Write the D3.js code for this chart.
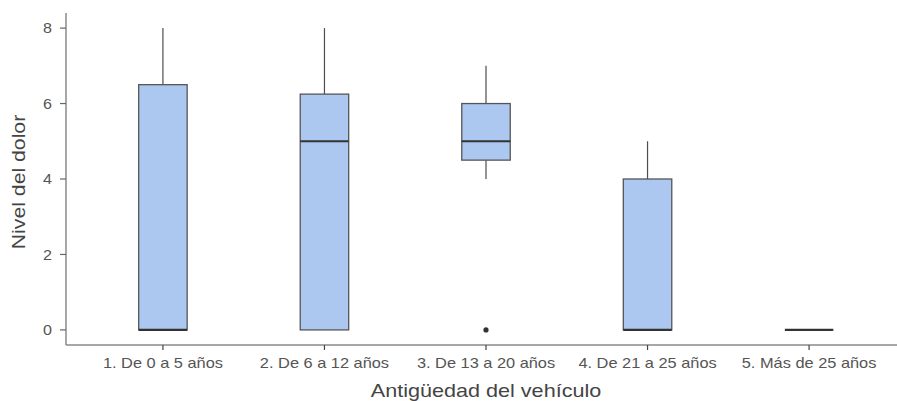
<!DOCTYPE html>
<html><head><meta charset="utf-8">
<script src="https://cdn.jsdelivr.net/npm/d3@7"></script>
<style>
html,body{margin:0;padding:0;background:#fff;}
svg text{font-family:"Liberation Sans",Arial,sans-serif;}
</style></head>
<body>
<svg id="chart" width="897" height="401"></svg>
<script>
const categories = ["1. De 0 a 5 años","2. De 6 a 12 años","3. De 13 a 20 años","4. De 21 a 25 años","5. Más de 25 años"];
const lowerWhisker = [0, 0, 4, 0, 0];
const q1 = [0, 0, 4.5, 0, 0];
const median = [0, 5, 5, 0, 0];
const q3 = [6.5, 6.25, 6, 4, 0];
const upperWhisker = [8, 8, 7, 5, 0];
const outliers = [[], [], [0], [], []];
const yTicks = [0, 2, 4, 6, 8];

(function(){
const svg = d3.select("#chart");
const mLeft = 66, mRight = 906, mTop = 13, mBottom = 345;
const n = categories.length;
const x = d3.scaleLinear().domain([0.4, n + 0.6]).range([mLeft, mRight]);
const y = d3.scaleLinear().domain([-0.4, 8.4]).range([mBottom, mTop]);
const boxW = (x(2) - x(1)) * 0.3;

const data = categories.map((c, i) => ({c, i, lo: lowerWhisker[i], q1: q1[i], med: median[i], q3: q3[i], hi: upperWhisker[i], out: outliers[i]}));

const g = svg.append("g");
data.forEach(d => {
  const cx = x(d.i + 1);
  if (d.hi > d.q3) g.append("line").attr("x1", cx).attr("x2", cx).attr("y1", y(d.q3)).attr("y2", y(d.hi)).attr("stroke", "#4d4d4d").attr("stroke-width", 1.2);
  if (d.lo < d.q1) g.append("line").attr("x1", cx).attr("x2", cx).attr("y1", y(d.q1)).attr("y2", y(d.lo)).attr("stroke", "#4d4d4d").attr("stroke-width", 1.2);
  if (d.q3 > d.q1) g.append("rect").attr("x", cx - boxW / 2).attr("width", boxW).attr("y", y(d.q3)).attr("height", y(d.q1) - y(d.q3))
    .attr("fill", "#adc8f0").attr("stroke", "#555").attr("stroke-width", 1.3);
  g.append("line").attr("x1", cx - boxW / 2).attr("x2", cx + boxW / 2).attr("y1", y(d.med)).attr("y2", y(d.med)).attr("stroke", "#333").attr("stroke-width", 2.2);
  d.out.forEach(o => g.append("circle").attr("cx", cx).attr("cy", y(o)).attr("r", 2.6).attr("fill", "#333"));
});

const axisColor = "#8a8a8a";
svg.append("line").attr("x1", mLeft).attr("x2", mLeft).attr("y1", mTop).attr("y2", mBottom).attr("stroke", axisColor).attr("stroke-width", 1.5);
svg.append("line").attr("x1", mLeft).attr("x2", 897).attr("y1", mBottom).attr("y2", mBottom).attr("stroke", axisColor).attr("stroke-width", 1.5);

yTicks.forEach(t => {
  svg.append("line").attr("x1", mLeft - 6).attr("x2", mLeft).attr("y1", y(t)).attr("y2", y(t)).attr("stroke", "#666").attr("stroke-width", 1.2);
  svg.append("text").attr("transform", `translate(${mLeft - 14},${y(t)}) scale(1.15,1)`).attr("dy", "0.36em").attr("text-anchor", "end")
    .attr("font-size", 14).attr("fill", "#555").text(t);
});
categories.forEach((c, i) => {
  const cx = x(i + 1);
  svg.append("line").attr("x1", cx).attr("x2", cx).attr("y1", mBottom).attr("y2", mBottom + 5).attr("stroke", "#444").attr("stroke-width", 1.2);
  svg.append("text").attr("transform", `translate(${cx},368) scale(1.17,1)`).attr("text-anchor", "middle")
    .attr("font-size", 14).attr("fill", "#555").text(c);
});

svg.append("text").attr("transform", `translate(${(mLeft + mRight) / 2},397) scale(1.2,1)`).attr("text-anchor", "middle")
  .attr("font-size", 18).attr("fill", "#444").text("Antigüedad del vehículo");
svg.append("text").attr("transform", `translate(25,${(mTop + mBottom) / 2 + 3}) rotate(-90) scale(1.18,1)`).attr("text-anchor", "middle")
  .attr("font-size", 18).attr("fill", "#444").text("Nivel del dolor");
})();
</script>
</body></html>
